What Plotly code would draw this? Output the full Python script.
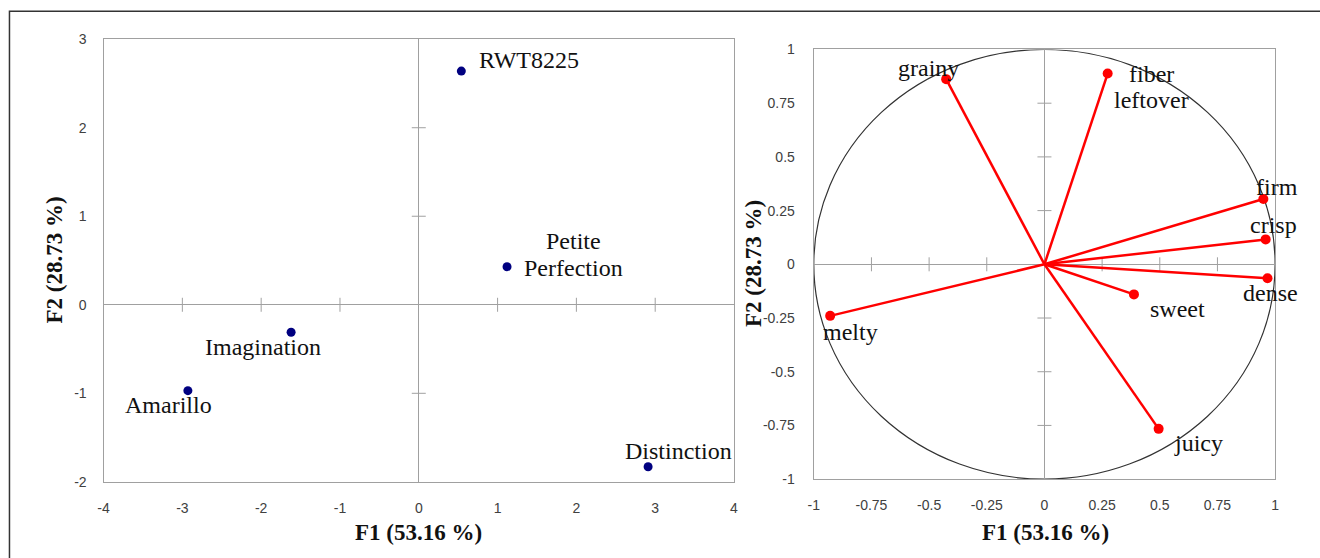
import plotly.graph_objects as go

# ---------------- data ----------------
cultivars = ["RWT8225", "Petite<br>Perfection", "Distinction", "Imagination", "Amarillo"]
f1_scores = [0.54, 1.12, 2.91, -1.62, -2.93]
f2_scores = [2.64, 0.43, -1.83, -0.31, -0.97]

attributes = ["grainy", "fiber<br>leftover", "firm", "crisp", "dense", "sweet", "juicy", "melty"]
f1_loadings = [-0.426, 0.274, 0.949, 0.959, 0.967, 0.388, 0.495, -0.929]
f2_loadings = [0.862, 0.888, 0.304, 0.116, -0.065, -0.140, -0.766, -0.240]

ticks_x1 = [-4, -3, -2, -1, 0, 1, 2, 3, 4]
ticks_y1 = [-2, -1, 0, 1, 2, 3]
ticks_x2 = [-1, -0.75, -0.5, -0.25, 0, 0.25, 0.5, 0.75, 1]
ticks_y2 = [-1, -0.75, -0.5, -0.25, 0, 0.25, 0.5, 0.75, 1]

x_title = "F1 (53.16 %)"
y_title = "F2 (28.73 %)"

# ---------------- layout helpers ----------------
W, H = 1320, 558
OFF = 8                      # default body margin of the page
SX, SY = W / (W + 2 * OFF), H / (H + 2 * OFF)
KX, BX = 1.0037, 2.4         # small empirical horizontal correction

# label offsets (target pixels, relative to the marker)
cultivar_offsets = [(67, 11), (66, 12), (30, 15), (-28, -14), (-19, -14)]
attribute_offsets = [(-18, 11), (43, -13), (14, 12), (8, 14), (3, -14), (43, -14), (40, -14), (20, -16)]
LINE_GAP = 26

FRAME = "#a0a0a0"
SERIF = "Liberation Serif"
SANS = "Liberation Sans"


def px(xp):
    xp = (xp + BX) / KX
    return (xp / SX - OFF) / W


def py(yp):
    return 1 - (yp / SY - OFF) / H


def fmt(ticks):
    return [f"{t:g}" for t in ticks]


fig = go.Figure()


# inner tick marks on the zero lines
def zero_ticks(xs, ys, xa, ya):
    inner_x = [t for t in xs if t not in (0, min(xs), max(xs))]
    inner_y = [t for t in ys if t not in (0, min(ys), max(ys))]
    fig.add_trace(go.Scatter(x=inner_x, y=[0] * len(inner_x), mode="markers", xaxis=xa, yaxis=ya,
                             marker=dict(symbol="line-ns-open", size=10, color=FRAME,
                                         line=dict(color=FRAME, width=1)),
                             hoverinfo="skip"))
    fig.add_trace(go.Scatter(x=[0] * len(inner_y), y=inner_y, mode="markers", xaxis=xa, yaxis=ya,
                             marker=dict(symbol="line-ew-open", size=10, color=FRAME,
                                         line=dict(color=FRAME, width=1)),
                             hoverinfo="skip"))


zero_ticks(ticks_x1, ticks_y1, "x", "y")
zero_ticks(ticks_x2, ticks_y2, "x2", "y2")

# left: observations
fig.add_trace(go.Scatter(x=f1_scores, y=f2_scores, mode="markers", xaxis="x", yaxis="y",
                         marker=dict(color="#000080", size=9), hoverinfo="skip"))

# right: loading vectors
vx, vy = [], []
for a, b in zip(f1_loadings, f2_loadings):
    vx += [0, a, None]
    vy += [0, b, None]
fig.add_trace(go.Scatter(x=vx, y=vy, mode="lines", xaxis="x2", yaxis="y2",
                         line=dict(color="#ff0000", width=2.5), hoverinfo="skip"))
fig.add_trace(go.Scatter(x=f1_loadings, y=f2_loadings, mode="markers", xaxis="x2", yaxis="y2",
                         marker=dict(color="#ff0000", size=10), hoverinfo="skip"))

annotations = []


def add_labels(labels, xs, ys, offsets, xr, yr):
    for lab, x, y, (dx, dy) in zip(labels, xs, ys, offsets):
        lines = lab.split("<br>")
        n = len(lines)
        for i, ln in enumerate(lines):
            shift = dy + ((n - 1) / 2 - i) * LINE_GAP
            annotations.append(dict(x=x, y=y, xref=xr, yref=yr, text=ln, showarrow=False,
                                    xanchor="center", yanchor="middle",
                                    xshift=dx / SX / KX, yshift=shift / SY,
                                    font=dict(family=SERIF, size=24, color="#111111")))


add_labels(cultivars, f1_scores, f2_scores, cultivar_offsets, "x", "y")
add_labels(attributes, f1_loadings, f2_loadings, attribute_offsets, "x2", "y2")

# axis titles
title_font = dict(family=SERIF, size=23, color="#111111", weight="bold")
for (cx, cy, txt, ang) in [(418, 533, x_title, 0), (54, 260, y_title, -90),
                           (1044, 533, x_title, 0), (752, 264, y_title, -90)]:
    annotations.append(dict(x=px(cx), y=py(cy), xref="paper", yref="paper", text=txt,
                            showarrow=False, xanchor="center", yanchor="middle", textangle=ang,
                            font=title_font))

shapes = [
    # unit correlation circle
    dict(type="circle", xref="x2", yref="y2", x0=-1, x1=1, y0=-1, y1=1,
         line=dict(color="#333333", width=1.2), layer="below"),
    # outer figure frame
    dict(type="rect", xref="paper", yref="paper", x0=px(9), x1=px(1360), y0=py(600), y1=py(11),
         line=dict(color="#333333", width=1.5), fillcolor="rgba(0,0,0,0)"),
]

axis_common = dict(showgrid=False, zeroline=True, zerolinecolor=FRAME, zerolinewidth=1,
                   showline=True, mirror=True, linecolor=FRAME, linewidth=1.3, ticks="",
                   tickmode="array",
                   tickfont=dict(family=SANS, size=14, color="#404040"), fixedrange=True)

fig.update_layout(
    width=W, height=H, margin=dict(l=0, r=0, t=0, b=0),
    paper_bgcolor="white", plot_bgcolor="white", showlegend=False,
    xaxis=dict(domain=[px(103), px(733)], range=[-4, 4], tickvals=ticks_x1, ticktext=fmt(ticks_x1),
               anchor="y", ticklabelstandoff=13, **axis_common),
    yaxis=dict(domain=[py(482), py(39)], range=[-2, 3], tickvals=ticks_y1, ticktext=fmt(ticks_y1),
               anchor="x", ticklabelstandoff=13, **axis_common),
    xaxis2=dict(domain=[px(812.7), px(1273.7)], range=[-1, 1], tickvals=ticks_x2, ticktext=fmt(ticks_x2),
                anchor="y2", ticklabelstandoff=13, **axis_common),
    yaxis2=dict(domain=[py(479.3), py(49.3)], range=[-1, 1], tickvals=ticks_y2, ticktext=fmt(ticks_y2),
                anchor="x2", ticklabelstandoff=15, **axis_common),
    annotations=annotations, shapes=shapes,
)

fig.write_html("out.html")
